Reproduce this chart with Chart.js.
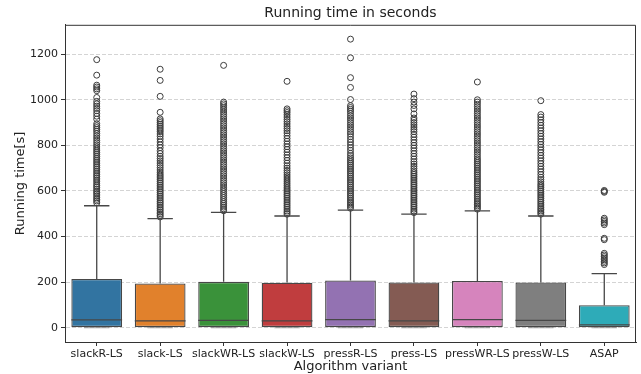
<!DOCTYPE html>
<html>
<head>
<meta charset="utf-8">
<script src="https://cdn.jsdelivr.net/npm/chart.js@4"></script>
<style>
  html, body { margin: 0; padding: 0; background: #fff; }
  #wrap { width: 641px; height: 374px; }
</style>
</head>
<body>
<div id="wrap"><canvas id="chart" width="641" height="374"></canvas></div>
<script>
// categories and box statistics
const categories = ['slackR-LS', 'slack-LS', 'slackWR-LS', 'slackW-LS', 'pressR-LS', 'press-LS', 'pressWR-LS', 'pressW-LS', 'ASAP'];
const q1 = [0, 0, 0, 0, 0, 0, 0, 0, 0];
const q3 = [214, 194, 201, 197, 207, 198, 205, 198, 98];
const medians = [34, 30, 32, 30, 35, 30, 35, 32, 12];
const whiskerLow = [0, 0, 0, 0, 0, 0, 0, 0, 0];
const whiskerHigh = [535, 478, 506, 490, 516, 498, 512, 490, 237];

// outliers per category
const slackROut = [548, 556, 563, 570, 578, 586, 593, 600, 608, 616, 623, 631, 640, 648, 656, 664, 671, 679, 687, 695, 703, 711, 719, 727, 735, 743, 751, 760, 768, 776, 784, 793, 802, 812, 822, 832, 842, 852, 862, 870, 878, 886, 895, 915, 928, 940, 952, 962, 972, 982, 993, 1010, 1040, 1048, 1056, 1064, 1108, 1176];
const slackOut = [486, 493, 500, 507, 515, 522, 530, 538, 546, 553, 561, 569, 577, 585, 593, 601, 609, 617, 625, 633, 641, 649, 657, 665, 673, 682, 692, 702, 712, 722, 732, 742, 752, 764, 776, 790, 802, 815, 828, 840, 850, 860, 868, 876, 884, 892, 900, 908, 916, 945, 1015, 1085, 1134];
const slackWROut = [513, 521, 529, 537, 545, 553, 562, 571, 580, 589, 598, 607, 616, 626, 636, 646, 656, 666, 676, 686, 696, 706, 716, 726, 736, 746, 756, 766, 776, 786, 796, 806, 816, 826, 836, 846, 856, 866, 876, 886, 896, 906, 916, 926, 936, 946, 956, 965, 974, 982, 990, 1151];
const slackWOut = [498, 505, 512, 520, 528, 536, 544, 552, 560, 568, 576, 584, 592, 600, 608, 616, 625, 634, 643, 652, 661, 670, 680, 690, 700, 710, 722, 734, 746, 758, 770, 782, 794, 806, 818, 830, 842, 854, 864, 874, 884, 894, 904, 914, 924, 934, 944, 952, 960, 1081];
const pressROut = [524, 531, 538, 545, 552, 560, 568, 576, 584, 592, 600, 608, 616, 624, 632, 640, 648, 656, 664, 672, 680, 688, 696, 704, 712, 720, 728, 736, 745, 755, 765, 778, 790, 802, 814, 826, 838, 850, 860, 870, 880, 890, 900, 910, 920, 930, 940, 950, 958, 966, 974, 1001, 1054, 1097, 1184, 1266];
const pressOut = [505, 512, 520, 528, 536, 544, 552, 560, 568, 576, 584, 592, 600, 608, 616, 624, 632, 640, 648, 656, 664, 672, 680, 688, 698, 708, 718, 728, 740, 752, 764, 776, 788, 800, 812, 824, 836, 848, 860, 870, 880, 890, 900, 910, 920, 938, 960, 975, 990, 1005, 1025];
const pressWROut = [520, 527, 534, 541, 548, 556, 564, 572, 580, 588, 596, 604, 612, 620, 628, 636, 644, 652, 660, 668, 676, 684, 692, 700, 708, 716, 724, 732, 740, 750, 760, 770, 780, 790, 800, 810, 820, 830, 840, 850, 860, 870, 880, 890, 900, 910, 920, 930, 940, 950, 960, 970, 980, 990, 1000, 1078];
const pressWOut = [498, 505, 512, 519, 526, 534, 542, 550, 558, 566, 574, 582, 590, 598, 606, 614, 622, 630, 640, 650, 660, 672, 684, 696, 708, 720, 732, 744, 756, 768, 780, 792, 804, 816, 828, 840, 852, 864, 876, 888, 900, 912, 924, 935, 996];
const asapOut = [277, 284, 291, 298, 305, 312, 319, 326, 386, 392, 452, 459, 466, 473, 480, 594, 598, 602];
const outliers = [slackROut, slackOut, slackWROut, slackWOut, pressROut, pressOut, pressWROut, pressWOut, asapOut];

const yTicks = [0, 200, 400, 600, 800, 1000, 1200];

const boxColors = ['#3274a1', '#e1812c', '#3a923a', '#c03d3e', '#9372b2', '#845b53', '#d684bd', '#7f7f7f', '#2eabb8'];
const lineColor = '#474747';
const FONT = 'DejaVu Sans';

// whiskers, caps and medians, placed with the chart's own scales
const boxLines = {
    id: 'boxLines',
    afterDatasetsDraw(chart) {
        const ctx = chart.ctx;
        const yScale = chart.scales.y;
        const meta = chart.getDatasetMeta(0);
        ctx.save();
        ctx.strokeStyle = lineColor;
        ctx.lineWidth = 1.3;
        meta.data.forEach((bar, i) => {
            const { x, width } = bar.getProps(['x', 'width'], true);
            const cap = width / 4;
            const yHi = yScale.getPixelForValue(whiskerHigh[i]);
            const yLo = yScale.getPixelForValue(whiskerLow[i]);
            const yQ3 = yScale.getPixelForValue(q3[i]);
            const yQ1 = yScale.getPixelForValue(q1[i]);
            const yMed = yScale.getPixelForValue(medians[i]);
            ctx.beginPath();
            ctx.moveTo(x, yQ3); ctx.lineTo(x, yHi);
            ctx.moveTo(x - cap, yHi); ctx.lineTo(x + cap, yHi);
            ctx.stroke();
            // lower cap sits on the box bottom, drawn lighter like the reference
            ctx.save();
            ctx.strokeStyle = 'rgba(120,120,120,0.6)';
            ctx.beginPath();
            ctx.moveTo(x, yQ1); ctx.lineTo(x, yLo);
            ctx.moveTo(x - cap, yLo); ctx.lineTo(x + cap, yLo);
            ctx.stroke();
            ctx.restore();
            ctx.beginPath();
            ctx.moveTo(x - width / 2, yMed); ctx.lineTo(x + width / 2, yMed);
            ctx.stroke();
        });
        ctx.restore();
    }
};

// top and right spines
const frame = {
    id: 'frame',
    afterDraw(chart) {
        const { ctx, chartArea: a } = chart;
        ctx.save();
        ctx.strokeStyle = '#333';
        ctx.lineWidth = 1;
        ctx.beginPath();
        ctx.moveTo(a.left, a.top + 0.5);
        ctx.lineTo(a.right - 0.5, a.top + 0.5);
        ctx.lineTo(a.right - 0.5, a.bottom);
        ctx.stroke();
        ctx.restore();
    }
};

const outlierPoints = [];
outliers.forEach((list, i) => {
    list.forEach(v => outlierPoints.push({ x: categories[i], y: v }));
});

new Chart(document.getElementById('chart'), {
    type: 'bar',
    data: {
        labels: categories,
        datasets: [{
            data: categories.map((c, i) => [q1[i], q3[i]]),
            backgroundColor: boxColors,
            borderColor: lineColor,
            borderWidth: 1.3,
            borderSkipped: false,
            barPercentage: 0.8,
            categoryPercentage: 1.0
        }, {
            type: 'scatter',
            data: outlierPoints,
            pointRadius: 3,
            pointBorderWidth: 1,
            pointBackgroundColor: 'rgba(0,0,0,0)',
            pointBorderColor: '#3c3c3c'
        }]
    },
    options: {
        responsive: false,
        animation: false,
        layout: { padding: { left: 0, right: 2, top: 0, bottom: 0 } },
        plugins: {
            legend: { display: false },
            tooltip: { enabled: false },
            title: {
                display: true,
                text: 'Running time in seconds',
                fullSize: false,
                color: '#222',
                font: { family: FONT, size: 14, weight: 'normal' },
                padding: { top: 5, bottom: 3 }
            }
        },
        scales: {
            x: {
                type: 'category',
                offset: true,
                grid: { drawOnChartArea: false, drawTicks: true, tickLength: 4, offset: false, color: '#333' },
                border: { display: true, color: '#333', width: 1 },
                ticks: { color: '#222', padding: 2, font: { family: FONT, size: 11 }, maxRotation: 0, autoSkip: false },
                title: { display: true, text: 'Algorithm variant', color: '#222', font: { family: FONT, size: 13 }, padding: { top: 0, bottom: 0 } },
                afterFit(scale) { scale.height = 32; }
            },
            y: {
                type: 'linear',
                min: -63,
                max: 1329,
                afterBuildTicks(axis) { axis.ticks = yTicks.map(v => ({ value: v })); },
                grid: { color: '#d4d4d4', lineWidth: 1, tickLength: 4, tickColor: '#333' },
                border: { display: true, color: '#333', width: 1, dash: [4, 2] },
                ticks: { color: '#222', padding: 3, font: { family: FONT, size: 11 }, callback: v => String(v) },
                title: { display: true, text: 'Running time[s]', color: '#222', font: { family: FONT, size: 13 }, padding: { top: 13, bottom: 0 } },
                afterFit(scale) { scale.width = 65; }
            }
        }
    },
    plugins: [boxLines, frame]
});
</script>
</body>
</html>
